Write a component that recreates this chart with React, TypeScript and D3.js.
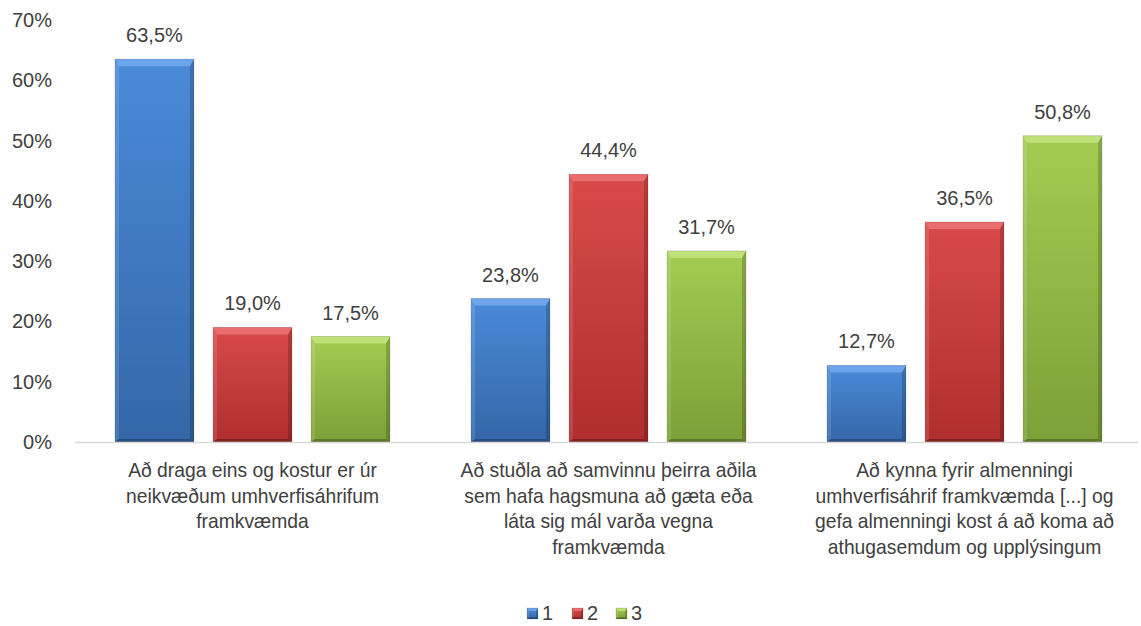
import React from "react";
import * as d3 from "d3";

const categories: string[][] = [
  ["Að draga eins og kostur er úr", "neikvæðum umhverfisáhrifum", "framkvæmda"],
  ["Að stuðla að samvinnu þeirra aðila", "sem hafa hagsmuna að gæta eða", "láta sig mál varða vegna", "framkvæmda"],
  ["Að kynna fyrir almenningi", "umhverfisáhrif framkvæmda [...] og", "gefa almenningi kost á að koma að", "athugasemdum og upplýsingum"],
];
const seriesNames = ["1", "2", "3"];
const series1 = [0.635, 0.238, 0.127];
const series2 = [0.19, 0.444, 0.365];
const series3 = [0.175, 0.317, 0.508];
const seriesValues = [series1, series2, series3];
const yTicks = [0, 0.1, 0.2, 0.3, 0.4, 0.5, 0.6, 0.7];

const colors = [
  { top: "#4b8ad8", bottom: "#3467a8", light: "#7aaef0" },
  { top: "#d94a4a", bottom: "#b02e2e", light: "#f07a7a" },
  { top: "#a4cc52", bottom: "#7d9f38", light: "#c8e886" },
];

const W = 1141;
const H = 626;
const FONT = "'Liberation Sans', Arial, sans-serif";
const TEXT = "#404040";

function T({ x, y, anchor, fs, sx = 1, children }: { x: number; y: number; anchor: string; fs: number; sx?: number; children: React.ReactNode }) {
  return (
    <g transform={`translate(${x},${y}) scale(${sx},1)`}>
      <text x={0} y={0} textAnchor={anchor} fontSize={fs} fill={TEXT}>
        {children}
      </text>
    </g>
  );
}

export default function App() {
  const y = d3.scaleLinear().domain([0, 0.7]).range([442, 20]);
  const x0 = d3.scaleBand<number>().domain([0, 1, 2]).range([74.5, 1142.5]).padding(0);
  const x1 = d3
    .scaleBand<number>()
    .domain([0, 1, 2])
    .range([0, x0.bandwidth()])
    .paddingInner(0.194)
    .paddingOuter(0.413);
  const fmt = (v: number) => (v * 100).toFixed(1).replace(".", ",") + "%";

  const bar = (x: number, yy: number, w: number, h: number, s: number, key: string, small = false) => {
    const bt = small ? 3 : 7, bs = small ? 2 : 4, bb = small ? 2 : 3;
    return (
      <g key={key}>
        <rect x={x} y={yy} width={w} height={h} fill={`url(#grad${s})`} />
        <polygon
          points={`${x},${yy} ${x + w},${yy} ${x + w - bs},${yy + bt} ${x + bs},${yy + bt}`}
          fill={colors[s].light}
          opacity={0.75}
        />
        <polygon
          points={`${x},${yy} ${x + bs},${yy + bt} ${x + bs},${yy + h - bb} ${x},${yy + h}`}
          fill="#ffffff"
          opacity={0.12}
        />
        <polygon
          points={`${x + w},${yy} ${x + w - bs},${yy + bt} ${x + w - bs},${yy + h - bb} ${x + w},${yy + h}`}
          fill="#000000"
          opacity={0.18}
        />
        <polygon
          points={`${x},${yy + h} ${x + bs},${yy + h - bb} ${x + w - bs},${yy + h - bb} ${x + w},${yy + h}`}
          fill="#000000"
          opacity={0.25}
        />
        <rect x={x} y={yy} width={w} height={h} fill="none" stroke="#000" strokeOpacity={0.15} strokeWidth={0.8} />
      </g>
    );
  };

  const legendX = [527, 572, 616];

  return (
    <svg width={W} height={H} style={{ position: "absolute", left: 0, top: 0, background: "#fff" }} fontFamily={FONT}>
      <defs>
        {colors.map((c, i) => (
          <linearGradient key={i} id={`grad${i}`} x1="0" y1="0" x2="0" y2="1">
            <stop offset="0" stopColor={c.top} />
            <stop offset="1" stopColor={c.bottom} />
          </linearGradient>
        ))}
      </defs>
      <rect x={0} y={0} width={W} height={H} fill="#fff" />
      {yTicks.map((t) => (
        <T key={t} x={52} y={y(t) + 7} anchor="end" fs={20}>
          {Math.round(t * 100) + "%"}
        </T>
      ))}
      {categories.map((_, ci) =>
        seriesValues.map((vals, si) => {
          const bx = (x0(ci) as number) + (x1(si) as number);
          const bw = x1.bandwidth();
          const top = y(vals[ci]);
          return bar(bx, top, bw, y(0) - top, si, `b${ci}-${si}`);
        })
      )}
      <line x1={75} x2={1138} y1={y(0) + 0.5} y2={y(0) + 0.5} stroke="#d9d9d9" strokeWidth={1.5} />
      {categories.map((_, ci) =>
        seriesValues.map((vals, si) => {
          const bx = (x0(ci) as number) + (x1(si) as number) + x1.bandwidth() / 2;
          return (
            <T key={`l${ci}-${si}`} x={bx} y={y(vals[ci]) - 17} anchor="middle" fs={20}>
              {fmt(vals[ci])}
            </T>
          );
        })
      )}
      {categories.map((lines, ci) =>
        lines.map((ln, li) => (
          <T key={`c${ci}-${li}`} x={(x0(ci) as number) + x0.bandwidth() / 2} y={477 + li * 25.5} anchor="middle" fs={20} sx={0.965}>
            {ln}
          </T>
        ))
      )}
      {seriesNames.map((n, i) => (
        <g key={`lg${i}`}>
          {bar(legendX[i], 608, 11, 11, i, `lgb${i}`, true)}
          <T x={legendX[i] + 15} y={620} anchor="start" fs={20}>
            {n}
          </T>
        </g>
      ))}
    </svg>
  );
}
